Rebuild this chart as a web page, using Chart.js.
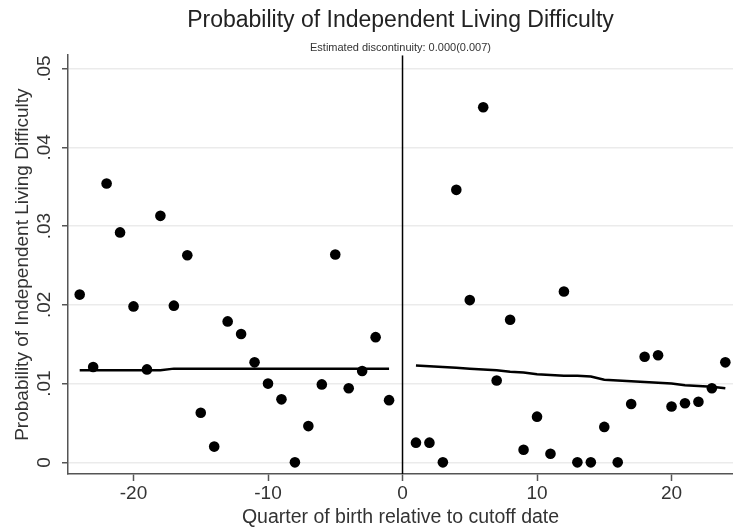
<!DOCTYPE html>
<html>
<head>
<meta charset="utf-8">
<script src="https://cdn.jsdelivr.net/npm/chart.js@4/dist/chart.umd.min.js"></script>
<style>
  html, body { margin: 0; padding: 0; background: #fff; }
  #wrap { width: 733px; height: 531px; overflow: hidden; }
</style>
</head>
<body>
<div id="wrap"><canvas id="rdChart" width="733" height="531"></canvas></div>
<script>
// Quarter of birth relative to cutoff, and binned means
const leftQuarters = [-24, -23, -22, -21, -20, -19, -18, -17, -16, -15, -14, -13,
                      -12, -11, -10, -9, -8, -7, -6, -5, -4, -3, -2, -1];
const leftMeans = [0.0213, 0.0121, 0.0354, 0.0292, 0.0198, 0.0118, 0.0313, 0.0199,
                   0.0263, 0.0063, 0.0020, 0.0179, 0.0163, 0.0127, 0.0100, 0.0080,
                   0.0000, 0.0046, 0.0099, 0.0264, 0.0094, 0.0116, 0.0159, 0.0079];
const leftFit = [0.0117, 0.0117, 0.0117, 0.0117, 0.0117, 0.0117, 0.0117, 0.0119,
                 0.0119, 0.0119, 0.0119, 0.0119, 0.0119, 0.0119, 0.0119, 0.0119,
                 0.0119, 0.0119, 0.0119, 0.0119, 0.0119, 0.0119, 0.0119, 0.0119];

const rightQuarters = [1, 2, 3, 4, 5, 6, 7, 8, 9, 10, 11, 12,
                       13, 14, 15, 16, 17, 18, 19, 20, 21, 22, 23, 24];
const rightMeans = [0.0025, 0.0025, 0.0000, 0.0346, 0.0206, 0.0451, 0.0104, 0.0181,
                    0.0016, 0.0058, 0.0011, 0.0217, 0.0000, 0.0000, 0.0045, 0.0000,
                    0.0074, 0.0134, 0.0136, 0.0071, 0.0075, 0.0077, 0.0094, 0.0127];
const rightFit = [0.0123, 0.0122, 0.0121, 0.0120, 0.0119, 0.0118, 0.0117, 0.0115,
                  0.0114, 0.0112, 0.0111, 0.0110, 0.0110, 0.0109, 0.0105, 0.0104,
                  0.0103, 0.0102, 0.0101, 0.0100, 0.0098, 0.0097, 0.0096, 0.0094];

const cutoff = 0;
const xRange = [-24.87, 24.57];
const yRange = [-0.00148, 0.0517];
const xTicks = [-20, -10, 0, 10, 20];
const yTicks = [0, 0.01, 0.02, 0.03, 0.04, 0.05];

const FONT = 'Liberation Sans, Arial, Helvetica, sans-serif';
const TEXT = '#333';
const AXIS = '#555';

function toPoints(xs, ys) {
  return xs.map((x, i) => ({ x: x, y: ys[i] }));
}

function formatProb(v) {
  if (v === 0) return '0';
  return v.toFixed(2).replace(/^0/, '');
}

const ctx = document.getElementById('rdChart').getContext('2d');

new Chart(ctx, {
  type: 'scatter',
  data: {
    datasets: [
      {
        label: 'cutoff',
        type: 'line',
        data: [{ x: cutoff, y: yRange[0] }, { x: cutoff, y: yRange[1] }],
        borderColor: '#000',
        borderWidth: 1.5,
        pointRadius: 0,
        fill: false
      },
      {
        label: 'left fit',
        type: 'line',
        data: toPoints(leftQuarters, leftFit),
        borderColor: '#000',
        borderWidth: 2.5,
        pointRadius: 0,
        tension: 0,
        fill: false
      },
      {
        label: 'right fit',
        type: 'line',
        data: toPoints(rightQuarters, rightFit),
        borderColor: '#000',
        borderWidth: 2.5,
        pointRadius: 0,
        tension: 0,
        fill: false
      },
      {
        label: 'left means',
        data: toPoints(leftQuarters, leftMeans),
        backgroundColor: '#000',
        borderColor: '#000',
        pointRadius: 5.3,
        pointBorderWidth: 0
      },
      {
        label: 'right means',
        data: toPoints(rightQuarters, rightMeans),
        backgroundColor: '#000',
        borderColor: '#000',
        pointRadius: 5.3,
        pointBorderWidth: 0
      }
    ]
  },
  options: {
    responsive: false,
    animation: false,
    layout: { autoPadding: false, padding: 0 },
    plugins: {
      legend: { display: false },
      tooltip: { enabled: false },
      title: {
        display: true,
        fullSize: false,
        text: 'Probability of Independent Living Difficulty',
        color: '#222',
        font: { family: FONT, size: 23, weight: 'normal' },
        padding: { top: 7, bottom: 6.6 }
      },
      subtitle: {
        display: true,
        fullSize: false,
        text: 'Estimated discontinuity: 0.000(0.007)',
        color: '#333',
        font: { family: FONT, size: 11, weight: 'normal' },
        padding: { top: 0, bottom: 0.8 }
      }
    },
    scales: {
      x: {
        type: 'linear',
        min: xRange[0],
        max: xRange[1],
        afterFit: s => { s.height = 57; },
        afterBuildTicks: s => { s.ticks = xTicks.map(v => ({ value: v })); },
        border: { display: true, color: AXIS, width: 1.5 },
        grid: {
          drawOnChartArea: false,
          drawTicks: true,
          tickLength: 7,
          tickColor: AXIS,
          tickWidth: 1.5
        },
        ticks: {
          color: TEXT,
          padding: 1,
          maxRotation: 0,
          font: { family: FONT, size: 19 },
          callback: v => String(v)
        },
        title: {
          display: true,
          text: 'Quarter of birth relative to cutoff date',
          color: TEXT,
          font: { family: FONT, size: 19.5 },
          padding: { top: 0, bottom: 1.5 }
        }
      },
      y: {
        type: 'linear',
        min: yRange[0],
        max: yRange[1],
        afterFit: s => { s.width = 68; },
        afterBuildTicks: s => { s.ticks = yTicks.map(v => ({ value: v })); },
        border: { display: true, color: AXIS, width: 1.5 },
        grid: {
          color: '#ebebeb',
          lineWidth: 1.5,
          drawTicks: true,
          tickLength: 6,
          tickColor: AXIS,
          tickWidth: 1.5
        },
        ticks: {
          color: TEXT,
          padding: 3.8,
          minRotation: 90,
          maxRotation: 90,
          crossAlign: 'center',
          font: { family: FONT, size: 19 },
          callback: v => formatProb(v)
        },
        title: {
          display: true,
          text: 'Probability of Independent Living Difficulty',
          color: TEXT,
          font: { family: FONT, size: 19 },
          padding: { top: 11, bottom: 0 }
        }
      }
    }
  }
});
</script>
</body>
</html>
